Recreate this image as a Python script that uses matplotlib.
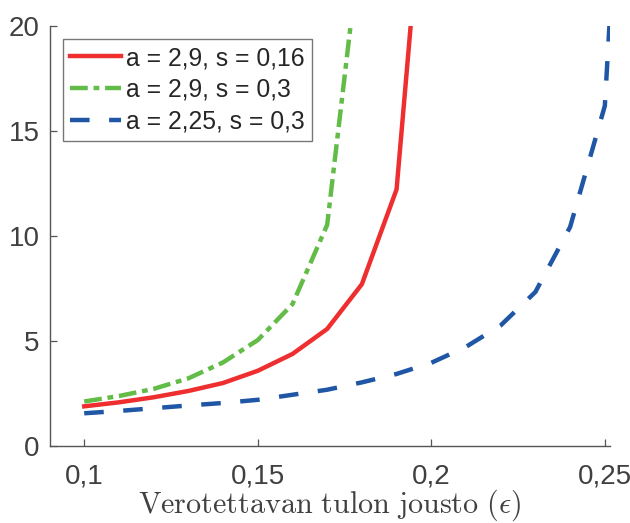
import matplotlib
matplotlib.use("Agg")
import matplotlib.pyplot as plt
from matplotlib.ticker import FuncFormatter

plt.rcParams['mathtext.fontset'] = 'cm'
plt.rcParams['font.family'] = ['Liberation Sans', 'DejaVu Sans']

x_red = [0.10, 0.11, 0.12, 0.13, 0.14, 0.15, 0.16, 0.17, 0.18, 0.19, 0.20]
y_red = [1.91, 2.10, 2.34, 2.64, 3.02, 3.60, 4.40, 5.59, 7.72, 12.23, 31.4]

x_green = [0.10, 0.11, 0.12, 0.13, 0.14, 0.15, 0.16, 0.17, 0.18]
y_green = [2.14, 2.40, 2.74, 3.24, 4.00, 5.06, 6.77, 10.54, 24.6]

x_blue = [0.10, 0.11, 0.12, 0.13, 0.14, 0.15, 0.16, 0.17, 0.18, 0.19, 0.20,
          0.21, 0.22, 0.23, 0.24, 0.25, 0.26]
y_blue = [1.58, 1.69, 1.82, 1.95, 2.07, 2.22, 2.46, 2.70, 3.05, 3.45, 3.98,
          4.74, 5.76, 7.35, 10.44, 16.2, 45.0]

labels = ['a = 2,9, s = 0,16', 'a = 2,9, s = 0,3', 'a = 2,25, s = 0,3']
x_ticks = [0.1, 0.15, 0.2, 0.25]
y_ticks = [0, 5, 10, 15, 20]

fig = plt.figure(figsize=(6.3, 5.23), dpi=100)
ax = fig.add_axes([0.0786, 0.1463, 0.8897, 0.8040])

lw = 3.2
ax.plot(x_red, y_red, color='#EE2E2F', lw=lw, linestyle='-', label=labels[0])
ax.plot(x_green, y_green, color='#62BC47', lw=lw,
        linestyle=(0, (4.0, 1.3, 1.3, 1.3)), label=labels[1])
ax.plot(x_blue, y_blue, color='#1F56A6', lw=lw,
        linestyle=(0, (4.4, 4.4)), label=labels[2])

ax.set_xlim(0.09, 0.2515)
ax.set_ylim(0, 20)
ax.set_xticks(x_ticks)
ax.set_yticks(y_ticks)
fmt = FuncFormatter(lambda v, p: ('%g' % v).replace('.', ','))
ax.xaxis.set_major_formatter(fmt)
ax.yaxis.set_major_formatter(fmt)

for s in ['top', 'right']:
    ax.spines[s].set_visible(False)
for s in ['left', 'bottom']:
    ax.spines[s].set_color('#555555')
    ax.spines[s].set_linewidth(1.0)
ax.tick_params(direction='in', length=5, width=0.9, color='#555555',
               labelsize=20, labelcolor='#404040')
ax.tick_params(axis='y', pad=7)
ax.tick_params(axis='x', pad=12)

ax.set_xlabel(r'$\mathrm{Verotettavan\ tulon\ jousto\ }(\epsilon)$',
              fontsize=21.7, color='#404040', labelpad=-1)

leg = ax.legend(loc='upper left', bbox_to_anchor=(0.024, 0.97), fontsize=17.8,
                frameon=True, fancybox=False, handlelength=2.05,
                handletextpad=0.2, borderpad=0.3, labelspacing=0.32,
                borderaxespad=0)
leg.get_frame().set_edgecolor('#555555')
leg.get_frame().set_linewidth(1.0)
for t in leg.get_texts():
    t.set_color('#262626')

fig.savefig('out.png', dpi=100)
